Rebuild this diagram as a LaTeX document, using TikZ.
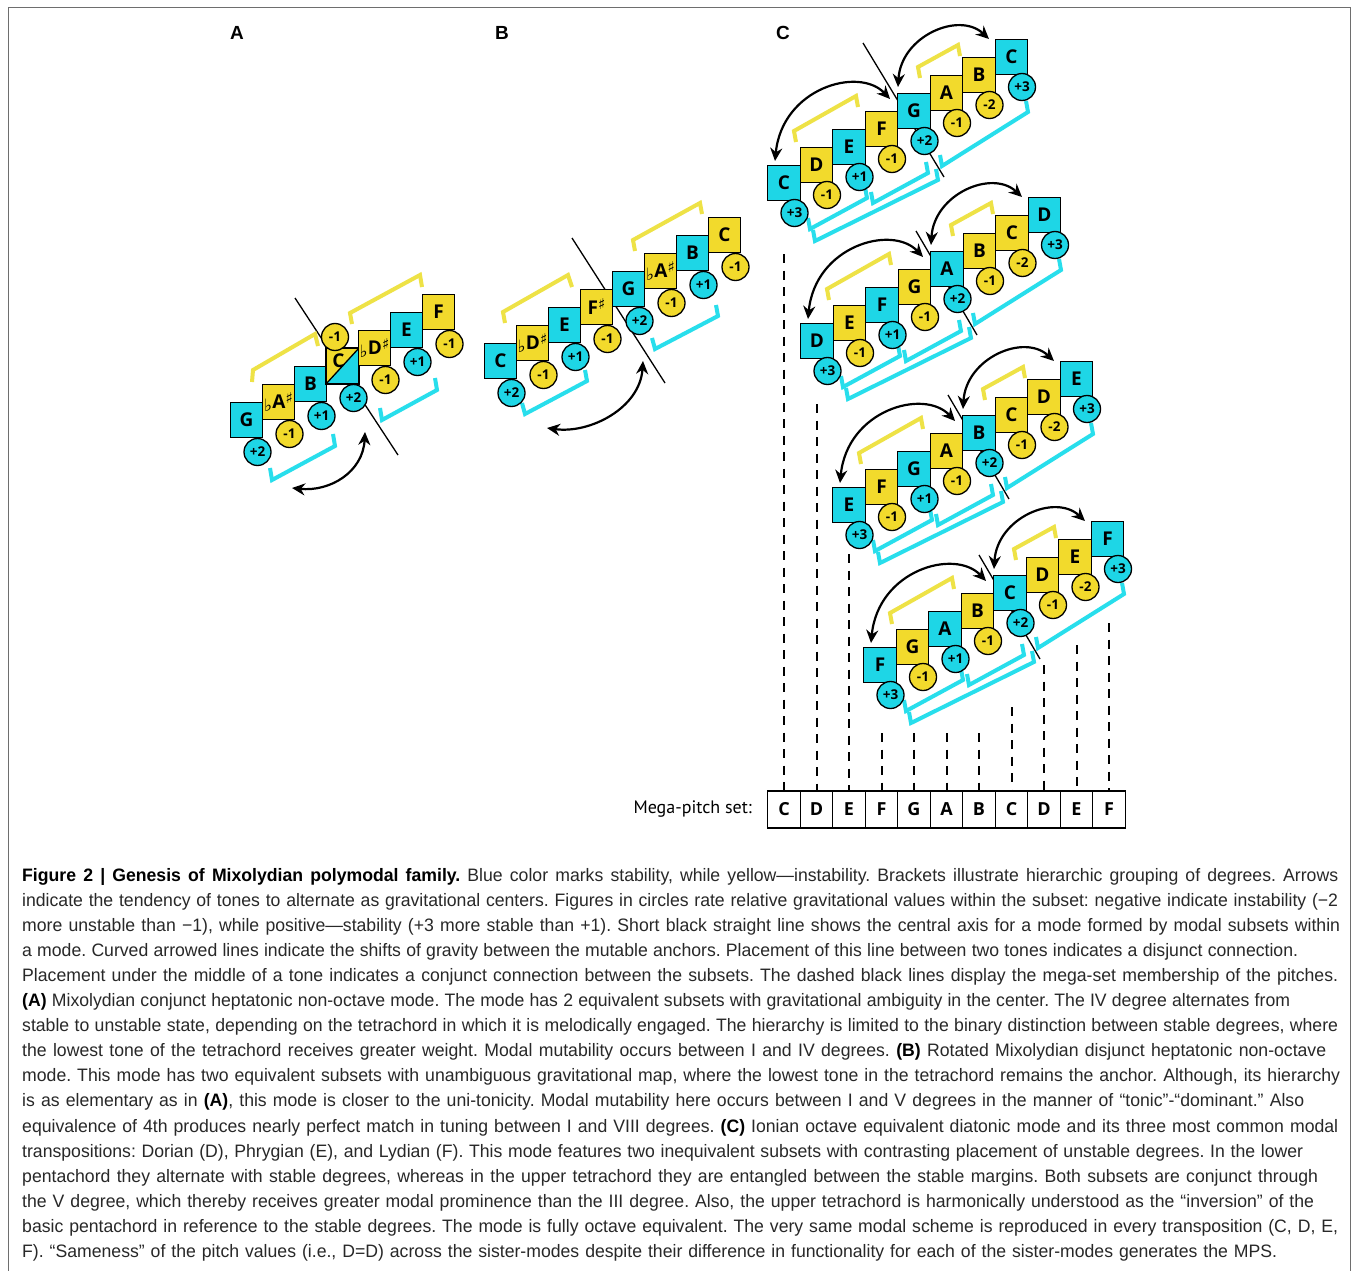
\documentclass[tikz,border=0pt]{standalone}
\usepackage{fontspec}
\usetikzlibrary{arrows.meta}
\setmainfont{Liberation Sans}
\newfontfamily\capf[FakeStretch=0.98]{Liberation Sans}
\newfontfamily\dgf{PT Sans}
\newfontfamily\nf{Open Sans}
\newfontfamily\symf{DejaVu Sans}
\definecolor{cy}{RGB}{30,214,230}
\definecolor{ye}{RGB}{242,218,44}
\definecolor{cyb}{RGB}{40,222,236}
\definecolor{yeb}{RGB}{238,226,70}
\definecolor{captxt}{RGB}{40,40,40}
\definecolor{framec}{RGB}{110,110,110}
\newcommand\myflat{{\symf\fontsize{17}{17}\selectfont\raisebox{-3pt}{♭}}}
\newcommand\mysharp{{\symf\fontsize{15}{15}\selectfont\raisebox{5pt}{♯}}}
\tikzset{
  sq/.style={draw=black, line width=1.4pt, minimum width=32pt, minimum height=35pt, inner sep=0pt, font=\nf\bfseries\fontsize{19}{19}\selectfont},
  sqc/.style={sq, minimum width=32.5pt},
  cyf/.style={fill=cy},
  yef/.style={fill=ye},
  circ/.style={circle, draw=black, line width=1.3pt, minimum size=27pt, inner sep=0pt, font=\nf\bfseries\fontsize{13.5}{13.5}\selectfont},
  brk/.style={line width=4pt, line join=miter},
  ybrk/.style={brk, draw=yeb},
  cbrk/.style={brk, draw=cyb},
  axisline/.style={line width=1.3pt, draw=black},
  garrow/.style={line width=2.2pt, {Stealth[length=13pt,width=12pt]}-{Stealth[length=13pt,width=12pt]}},
  dline/.style={line width=2pt, dash pattern=on 9pt off 7.5pt},
  mcell/.style={draw=black, line width=1.3pt, minimum width=32.5pt, minimum height=37pt, inner sep=0pt, font=\nf\bfseries\fontsize{18}{18}\selectfont},
  plabel/.style={font=\bfseries\fontsize{19}{19}\selectfont},
  capl/.style={anchor=base west, inner sep=0pt, font=\capf\fontsize{18}{18}\selectfont, text=captxt},
}
\newcommand\capline[3]{\node[capl] (cap#1) at (22,{881+25.1*(#1-1)}) {\frenchspacing\hbox to #2pt{#3}};}
\newcommand\acc[1]{\myflat\kern0.3pt #1\kern0.3pt\mysharp}
\begin{document}
\begin{tikzpicture}[x=1pt,y=-1pt]
\useasboundingbox (0,0) rectangle (1358,1271);
\fill[white] (0,0) rectangle (1358,1271);
\draw[framec,line width=1pt] (8,1275) -- (8,8) -- (1350,8) -- (1350,1275);

% panel labels
\node[plabel] (labA) at (237,33) {A};
\node[plabel] (labB) at (502,33) {B};
\node[plabel] (labC) at (783,33) {C};

%%%%%%%%%%%%%%%% Panel A
\coordinate (aX1) at (295,298);
\coordinate (aX2) at (398,455);
\draw[axisline] (aX1) -- (aX2);
\draw[ybrk] (252,382) -- (253,370) -- (315,334) -- (318,346);
\draw[ybrk] (352,324) -- (350,313) -- (420,275) -- (422,287);
\draw[cbrk] (270,468) -- (272,480) -- (335,446) -- (333,434);
\draw[cbrk] (380,408) -- (382,420) -- (437,390) -- (435,378);
\node[sq,cyf] (aG) at (246.5,420) {G};
\node[sq,yef] (aA) at (278.5,402) {\acc{A}};
\node[sq,cyf] (aB) at (310.5,384) {B};
\node[sq,path picture={
   \fill[ye] (path picture bounding box.south west) -- (path picture bounding box.north west) -- (path picture bounding box.north east) -- cycle;
   \fill[cy] (path picture bounding box.south west) -- (path picture bounding box.south east) -- (path picture bounding box.north east) -- cycle;}] (aC) at (342.5,366) {};
\draw[line width=1.3pt] (aC.south west) -- (aC.north east);
\draw[line width=1.4pt] (aC.south west) rectangle (aC.north east);
\node[font=\nf\bfseries\fontsize{19}{19}\selectfont] (aCt) at ([shift={(-4,-5)}]aC.center) {C};
\node[sq,yef] (aD) at (374.5,348) {\acc{D}};
\node[sq,cyf] (aE) at (406.5,330) {E};
\node[sq,yef] (aF) at (438.5,312) {F};
\node[circ,cyf] (aGc) at (257.5,452) {+2};
\node[circ,yef] (aAc) at (289.5,434) {-1};
\node[circ,cyf] (aBc) at (321.5,416) {+1};
\node[circ,cyf] (aCc) at (353.5,398) {+2};
\node[circ,yef] (aCu) at (335,337) {-1};
\node[circ,yef] (aDc) at (385.5,380) {-1};
\node[circ,cyf] (aEc) at (417.5,362) {+1};
\node[circ,yef] (aFc) at (449.5,344) {-1};
\coordinate (aArL) at (292,488);
\coordinate (aArR) at (365,432);
\draw[garrow] (aArL) .. controls (330,492) and (363,472) .. (aArR);

%%%%%%%%%%%%%%%% Panel B
\coordinate (bX1) at (572,238);
\coordinate (bX2) at (665,383);
\draw[axisline] (bX1) -- (bX2);
\draw[ybrk] (505,323) -- (503,312) -- (568,275) -- (572,287);
\draw[ybrk] (635,251) -- (633,240) -- (700,203) -- (702,214);
\draw[cbrk] (522,403) -- (525,414) -- (587,381) -- (585,370);
\draw[cbrk] (652,338) -- (655,349) -- (718,316) -- (716,305);
\node[sq,cyf] (bC) at (500.5,361) {C};
\node[sq,yef] (bD) at (532.5,343) {\acc{D}};
\node[sq,cyf] (bE) at (564.5,325) {E};
\node[sq,yef] (bF) at (596.5,307) {F\kern0.3pt\mysharp};
\node[sq,cyf] (bG) at (628.5,289) {G};
\node[sq,yef] (bA) at (660.5,271) {\acc{A}};
\node[sq,cyf] (bB) at (692.5,253) {B};
\node[sq,yef] (bC2) at (724.5,235) {C};
\node[circ,cyf] (bCc) at (511.5,393) {+2};
\node[circ,yef] (bDc) at (543.5,375) {-1};
\node[circ,cyf] (bEc) at (575.5,357) {+1};
\node[circ,yef] (bFc) at (607.5,339) {-1};
\node[circ,cyf] (bGc) at (639.5,321) {+2};
\node[circ,yef] (bAc) at (671.5,303) {-1};
\node[circ,cyf] (bBc) at (703.5,285) {+1};
\node[circ,yef] (bC2c) at (735.5,267) {-1};
\coordinate (bArL) at (547,428);
\coordinate (bArR) at (643,361);
\draw[garrow] (bArL) .. controls (590,434) and (640,408) .. (bArR);

%%%%%%%%%%%%%%%% Panel C: mega-pitch set
\foreach \j/\l in {0/C,1/D,2/E,3/F,4/G,5/A,6/B,7/C,8/D,9/E,10/F}{
  \node[mcell] (mc\j) at ({784+32.5*\j},809.5) {\l};
}
\node[anchor=east, inner sep=0pt, font=\dgf\fontsize{18}{18}\selectfont] (mlab) at (752,809) {Mega-pitch set:};
\foreach \j/\yt in {0/254,1/404,2/554,3/733,4/733,5/733,6/733,7/707,8/665,9/645,10/623}{
  \coordinate (dt\j) at ({784+32.5*\j},\yt);
  \draw[dline] (dt\j) -- (mc\j.north);
}

%%%%%%%%%%%%%%%% Panel C rows
\foreach \r/\ox/\oy/\ax/\ay/\la/\lb/\lc/\ld/\le/\lf/\lg/\lh in {
 0/784/183/79/-140/C/D/E/F/G/A/B/C,
 1/817/341/99/-110/D/E/F/G/A/B/C/D,
 2/849/505/99/-110/E/F/G/A/B/C/D/E,
 3/880/665/99/-110/F/G/A/B/C/D/E/F}{
 \begin{scope}[shift={(\ox,\oy)}]
  \coordinate (r\r x1) at (\ax,\ay);
  \coordinate (r\r x2) at (160,-6);
  \draw[axisline] (r\r x1) -- (r\r x2);
  \draw[ybrk] (12,-41) -- (10,-52) -- (72,-87) -- (74,-76);
  \draw[ybrk] (136,-105) -- (134,-116) -- (174,-138) -- (176,-127);
  \draw[cbrk] (24,35) -- (26,46) -- (83,15) -- (81,4);
  \draw[cbrk] (87,9) -- (89,20) -- (144,-10) -- (142,-21);
  \draw[cbrk] (29,47) -- (31,58) -- (154,-3) -- (152,-14);
  \draw[cbrk] (156,-28) -- (158,-17) -- (244,-71) -- (242,-82);
  \node[sqc,cyf] (r\r n0) at (0,0) {\la};
  \node[sqc,yef] (r\r n1) at (32.5,-18) {\lb};
  \node[sqc,cyf] (r\r n2) at (65,-36) {\lc};
  \node[sqc,yef] (r\r n3) at (97.5,-54) {\ld};
  \node[sqc,cyf] (r\r n4) at (130,-72) {\le};
  \node[sqc,yef] (r\r n5) at (162.5,-90) {\lf};
  \node[sqc,yef] (r\r n6) at (195,-108) {\lg};
  \node[sqc,cyf] (r\r n7) at (227.5,-126) {\lh};
  \node[circ,cyf] (r\r c0) at (10.5,30) {+3};
  \node[circ,yef] (r\r c1) at (43,12) {-1};
  \node[circ,cyf] (r\r c2) at (75.5,-6) {+1};
  \node[circ,yef] (r\r c3) at (108,-24) {-1};
  \node[circ,cyf] (r\r c4) at (140.5,-42) {+2};
  \node[circ,yef] (r\r c5) at (173,-60) {-1};
  \node[circ,yef] (r\r c6) at (205.5,-78) {-2};
  \node[circ,cyf] (r\r c7) at (238,-96) {+3};
  \coordinate (r\r a1s) at (-9,-22);
  \coordinate (r\r a1e) at (106,-84);
  \coordinate (r\r a2s) at (114,-96);
  \coordinate (r\r a2e) at (205,-144);
  \draw[garrow] (r\r a1s) .. controls (-2,-95) and (75,-117) .. (r\r a1e);
  \draw[garrow] (r\r a2s) .. controls (117,-147) and (175,-172) .. (r\r a2e);
 \end{scope}
}

%%%%%%%%%%%%%%%% Caption
\capline{1}{1316}{{\bfseries\color{black}Figure 2 | Genesis of Mixolydian polymodal family.} Blue color marks stability, while yellow—instability. Brackets illustrate hierarchic grouping of degrees. Arrows}
\capline{2}{1316}{indicate the tendency of tones to alternate as gravitational centers. Figures in circles rate relative gravitational values within the subset: negative indicate instability (−2}
\capline{3}{1318}{more unstable than −1), while positive—stability (+3 more stable than +1). Short black straight line shows the central axis for a mode formed by modal subsets within}
\capline{4}{1276}{a mode. Curved arrowed lines indicate the shifts of gravity between the mutable anchors. Placement of this line between two tones indicates a disjunct connection.}
\capline{5}{1316}{Placement under the middle of a tone indicates a conjunct connection between the subsets. The dashed black lines display the mega-set membership of the pitches.}
\capline{6}{1268}{{\bfseries\color{black}(A)} Mixolydian conjunct heptatonic non-octave mode. The mode has 2 equivalent subsets with gravitational ambiguity in the center. The IV degree alternates from}
\capline{7}{1316}{stable to unstable state, depending on the tetrachord in which it is melodically engaged. The hierarchy is limited to the binary distinction between stable degrees, where}
\capline{8}{1304}{the lowest tone of the tetrachord receives greater weight. Modal mutability occurs between I and IV degrees. {\bfseries\color{black}(B)} Rotated Mixolydian disjunct heptatonic non-octave}
\capline{9}{1318}{mode. This mode has two equivalent subsets with unambiguous gravitational map, where the lowest tone in the tetrachord remains the anchor. Although, its hierarchy}
\capline{10}{1282}{is as elementary as in {\bfseries\color{black}(A)}, this mode is closer to the uni-tonicity. Modal mutability here occurs between I and V degrees in the manner of “tonic”-“dominant.” Also}
\capline{11}{1316}{equivalence of 4th produces nearly perfect match in tuning between I and VIII degrees. {\bfseries\color{black}(C)} Ionian octave equivalent diatonic mode and its three most common modal}
\capline{12}{1281}{transpositions: Dorian (D), Phrygian (E), and Lydian (F). This mode features two inequivalent subsets with contrasting placement of unstable degrees. In the lower}
\capline{13}{1296}{pentachord they alternate with stable degrees, whereas in the upper tetrachord they are entangled between the stable margins. Both subsets are conjunct through}
\capline{14}{1292}{the V degree, which thereby receives greater modal prominence than the III degree. Also, the upper tetrachord is harmonically understood as the “inversion” of the}
\capline{15}{1316}{basic pentachord in reference to the stable degrees. The mode is fully octave equivalent. The very same modal scheme is reproduced in every transposition (C, D, E,}
\capline{16}{1255}{F). “Sameness” of the pitch values (i.e., D=D) across the sister-modes despite their difference in functionality for each of the sister-modes generates the MPS.}
\end{tikzpicture}
\end{document}
